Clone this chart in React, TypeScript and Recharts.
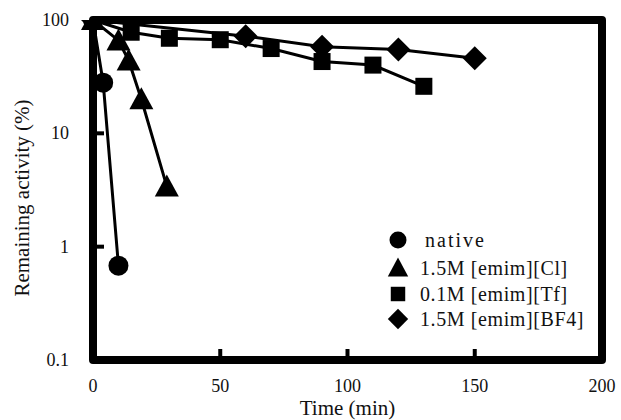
import React from "react";
import { Label, Line, LineChart, ReferenceArea, XAxis, YAxis } from "recharts";

// time (min) and remaining activity (%)
const nativeTime = [0, 4, 10];
const nativeActivity = [100, 28, 0.68];

const clTime = [0, 10, 14, 19, 29];
const clActivity = [100, 66, 44, 20, 3.4];

const tfTime = [0, 15, 30, 50, 70, 90, 110, 130];
const tfActivity = [100, 78, 69, 67, 56, 43, 40, 26];

const bf4Time = [0, 60, 90, 120, 150];
const bf4Activity = [100, 72, 58, 55, 46];

const xTicks = [0, 50, 100, 150, 200];
const yTicks = [0.1, 1, 10, 100];
const innerXTicks = [50, 100, 150];
const innerYTicks = [1, 10];

const legendLabels = ["native", "1.5M [emim][Cl]", "0.1M [emim][Tf]", "1.5M [emim][BF4]"];

type Kind = "circle" | "triangle" | "square" | "diamond";

const FONT = "'Liberation Serif', 'Times New Roman', serif";

const zip = (t: number[], v: number[]) => t.map((x, i) => ({ t: x, v: v[i] }));

const series: { name: string; kind: Kind; data: { t: number; v: number }[] }[] = [
  { name: legendLabels[0], kind: "circle", data: zip(nativeTime, nativeActivity) },
  { name: legendLabels[1], kind: "triangle", data: zip(clTime, clActivity) },
  { name: legendLabels[2], kind: "square", data: zip(tfTime, tfActivity) },
  { name: legendLabels[3], kind: "diamond", data: zip(bf4Time, bf4Activity) }
];

function Marker({ kind, cx, cy, s = 1 }: { kind: Kind; cx: number; cy: number; s?: number }) {
  if (kind === "circle") return <circle cx={cx} cy={cy} r={10 * s} fill="#000" />;
  if (kind === "triangle") {
    const w = 12 * s;
    const h = 10 * s;
    return <polygon points={`${cx},${cy - h - 2} ${cx - w},${cy + h} ${cx + w},${cy + h}`} fill="#000" />;
  }
  if (kind === "square") {
    const h = 8.5 * s;
    return <rect x={cx - h} y={cy - h} width={2 * h} height={2 * h} fill="#000" />;
  }
  const d = 12 * s;
  return <polygon points={`${cx},${cy - d} ${cx + d},${cy} ${cx},${cy + d} ${cx - d},${cy}`} fill="#000" />;
}

function XTick(props: any) {
  const { x, y, payload } = props;
  return (
    <g>
      {innerXTicks.includes(payload.value) && (
        <line x1={x} x2={x} y1={y} y2={y - 11} stroke="#000" strokeWidth={4} />
      )}
      <text x={x} y={y + 32} textAnchor="middle" fontFamily={FONT} fontSize={18} fill="#111">
        {payload.value}
      </text>
    </g>
  );
}

function YTick(props: any) {
  const { x, y, payload } = props;
  return (
    <g>
      {innerYTicks.includes(payload.value) && (
        <line x1={x} x2={x + 11} y1={y} y2={y} stroke="#000" strokeWidth={4} />
      )}
      <text x={x - 24} y={y + 6} textAnchor="end" fontFamily={FONT} fontSize={18} fill="#111">
        {payload.value}
      </text>
    </g>
  );
}

function YTitle(props: any) {
  const { viewBox } = props;
  const cx = 22;
  const cy = viewBox.y + viewBox.height / 2 + 8;
  return (
    <text
      x={cx}
      y={cy}
      transform={`rotate(-90 ${cx} ${cy})`}
      textAnchor="middle"
      dominantBaseline="central"
      fontFamily={FONT}
      fontSize={21}
      fill="#111"
    >
      Remaining activity (%)
    </text>
  );
}

function ChartLegend() {
  const rows = [240, 268, 294, 319];
  return (
    <div style={{ position: "absolute", left: 0, top: 0, width: 621, height: 420, pointerEvents: "none" }}>
      {series.map((s, i) => (
        <div
          key={s.name}
          style={{
            position: "absolute",
            left: 386,
            top: rows[i] - 12,
            height: 24,
            display: "flex",
            alignItems: "center",
            fontFamily: FONT,
            fontSize: 20,
            color: "#111",
            whiteSpace: "nowrap"
          }}
        >
          <svg width={24} height={24} style={{ marginRight: 10 }}>
            <Marker kind={s.kind} cx={12} cy={12} s={0.85} />
          </svg>
          <span style={{ letterSpacing: i === 0 ? 2 : 0.6, marginLeft: i === 0 ? 5 : 0 }}>{s.name}</span>
        </div>
      ))}
    </div>
  );
}

export default function App() {
  return (
    <div style={{ position: "absolute", left: 0, top: 0, width: 621, height: 420, background: "#fff" }}>
      <LineChart width={621} height={420} margin={{ top: 20, right: 19, bottom: 0, left: 0 }}>
        <XAxis
          type="number"
          dataKey="t"
          domain={[0, 200]}
          ticks={xTicks}
          interval={0}
          height={60}
          axisLine={false}
          tickLine={false}
          tickSize={0}
          tickMargin={0}
          tick={<XTick />}
        >
          <Label
            value="Time (min)"
            position="insideBottom"
            offset={5}
            style={{ fontFamily: FONT, fontSize: 21, fill: "#111" }}
          />
        </XAxis>
        <YAxis
          type="number"
          scale="log"
          domain={[0.1, 100]}
          ticks={yTicks}
          interval={0}
          width={93}
          allowDataOverflow
          axisLine={false}
          tickLine={false}
          tickSize={0}
          tickMargin={0}
          tick={<YTick />}
        >
          <Label content={<YTitle />} />
        </YAxis>
        <ReferenceArea
          x1={0}
          x2={200}
          y1={0.1}
          y2={100}
          fill="none"
          fillOpacity={0}
          stroke="#000"
          strokeWidth={8}
          strokeLinejoin="round"
        />
        {series.map((s) => (
          <Line
            key={s.name}
            data={s.data}
            dataKey="v"
            name={s.name}
            type="linear"
            stroke="#000"
            strokeWidth={3}
            isAnimationActive={false}
            activeDot={false}
            dot={(p: any) => <Marker key={`${s.name}-${p.index}`} kind={s.kind} cx={p.cx} cy={p.cy} />}
          />
        ))}
      </LineChart>
      <ChartLegend />
    </div>
  );
}
